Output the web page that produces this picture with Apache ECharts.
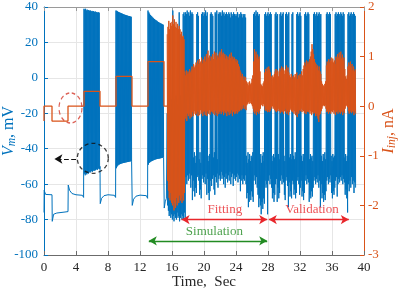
<!DOCTYPE html>
<html><head><meta charset="utf-8">
<script src="https://cdn.jsdelivr.net/npm/echarts@6/dist/echarts.min.js"></script>
<style>html,body{margin:0;padding:0;background:#fff}#c{width:400px;height:295px}</style>
</head><body><div id="c"></div>
<script>
// ---------- DATA ----------
const xTicks = [0, 40, 4];          // x axis min, max, step (s)
const vmTicks = [-100, 40, 20];     // left axis (mV)
const iTicks = [-3, 2, 1];          // right axis (nA)

// Membrane potential, sub-threshold step responses (time s, mV)
const restT1 = [0, 0.02, 0.2, 1.0, 1.03, 1.2, 1.6, 2.5, 3.0, 3.03, 3.2, 3.5, 4.0, 4.8, 4.95];
const restV1 = [-76, -63.5, -65.8, -66, -81, -77, -76.3, -75.8, -75.5, -60.5, -63.5, -65.3, -66, -66.3, -67.5];
const restT2 = [7.0, 7.03, 7.2, 7.5, 8.0, 8.8, 8.95];
const restV2 = [-50, -71, -68, -66.5, -66, -66.3, -67.5];
const restT3 = [11.0, 11.03, 11.2, 11.5, 12.0, 12.8, 12.95];
const restV3 = [-47, -72, -68.5, -66.8, -66.2, -66.5, -68];
const restT4 = [15.0, 15.03, 15.15, 15.3];
const restV4 = [-45, -73.5, -70, -68];

// Spiking bursts: per 0.1 s sample, spike peak (Hi) and trough (Lo), mV
const DT = 0.1;
const burstStart = [5.0, 9.0, 13.0];
const burst1Hi = [39, 38.5, 39, 38, 38.5, 38, 38.3, 37.8, 38, 37.5, 37.8, 37.5, 37.6, 37.2, 37.5, 37, 37.2, 36.8, 37, 36.8];
const burst1Lo = [-54, -55, -54, -54.5, -53.5, -54, -53, -53.5, -53, -52.5, -53, -52.5, -52, -52.5, -52, -51.5, -52, -51.5, -51, -51.5];
const burst2Hi = [38, 37.8, 37.5, 37.2, 37, 36.8, 36.6, 36.4, 36.2, 36, 35.8, 35.6, 35.5, 35.3, 35.2, 35, 34.9, 34.8, 34.6, 34.5];
const burst2Lo = [-51, -50, -49.4, -49, -48.8, -48.6, -48.4, -48.3, -48.1, -48, -47.9, -47.8, -47.7, -47.6, -47.5, -47.4, -47.3, -47.2, -47.1, -47];
const burst3Hi = [38, 37, 36.2, 35.5, 35, 34.5, 34, 33.6, 33.2, 32.8, 32.5, 32.2, 31.8, 31.5, 31.2, 31, 30.7, 30.5, 30.2, 30];
const burst3Lo = [-49, -48, -47.6, -47.3, -47, -46.8, -46.6, -46.4, -46.2, -46, -45.9, -45.8, -45.7, -45.6, -45.5, -45.4, -45.3, -45.2, -45.1, -45];

// Noisy-current period, from 15.4 s, every 0.1 s: envelope high / low
const noiseStart = 15.4;
const vHi = [
  -20, -15, -25, -10, -18, -12,
  -15, 38, -20, -12, -18, -10, -22, -15, -12, 37,
  -18, -10, -15, -20, 36, 37, 35, 37, 36, 38,
  36, 37, 35, 38, 36, 37, 36, -45, -42, -48,
  -44, 36, 37, 35, -46, -42, -48, 36, 37, 35,
  37, 36, 38, 35, 37, -44, -47, -43, 36, 37,
  36, 35, -45, -42, 37, 36, 38, -46, 36, 37,
  36, 37, 35, 38, 36, 37, 35, 36, 37, 36,
  35, 37, 36, 34, 37, 36, 35, 37, 36, 35,
  36, 35, 37, 34, 36, 35, 37, 36, 34, 36,
  35, 36, 34, -44, -48, -42, -46, -43, -47, -44,
  -45, -42, 36, 37, 35, 38, 36, 37, 35, 36,
  -46, -43, -48, -44, -42, -47, 36, 37, 35, 36,
  37, 35, 36, 37, 36, -44, -47, -43, -45, 36,
  37, 35, 36, -43, -46, 36, 37, 35, 36, 37,
  -44, -47, 36, 37, 35, 36, 37, -45, -43, -46,
  36, 37, -44, -46, -42, -45, 36, 37, 35, 36,
  37, 35, -44, -47, -43, -45, 36, 37, 35, 36,
  37, 36, -46, -43, -45, -44, -47, 36, 37, 35,
  36, 37, 35, 36, 37, 35, 36, -44, -47, -43,
  -45, -42, -46, 36, 37, 35, 36, 37, 36, -44,
  -47, -43, -45, -44, 36, 37, 35, 36, 37, 36,
  35, 37, 36, 35, 37, 36, -45, -43, -47, -44,
  36, 37, 35, 36, 37, 35, 36, 37, 36, 35];
const vLo = [
  -72, -75, -78, -76, -79, -77,
  -80, -78, -81, -77, -79, -80, -76, -79, -78, -81,
  -79, -77, -80, -78, -80, -76, -79, -56, -60, -55,
  -58, -54, -57, -62, -55, -69, -58, -64, -67, -62,
  -65, -56, -55, -58, -66, -63, -68, -57, -55, -59,
  -56, -60, -54, -66, -57, -65, -69, -64, -58, -61,
  -57, -55, -63, -66, -56, -59, -54, -62, -57, -55,
  -58, -53, -57, -55, -60, -56, -62, -54, -57, -59,
  -55, -58, -53, -60, -56, -54, -61, -57, -55, -58,
  -56, -54, -59, -55, -57, -64, -58, -55, -60, -57,
  -58, -55, -60, -68, -65, -73, -70, -66, -69, -64,
  -67, -70, -58, -55, -60, -56, -62, -66, -73, -68,
  -72, -77, -70, -74, -68, -71, -58, -62, -60, -77,
  -58, -55, -60, -57, -62, -68, -65, -70, -66, -60,
  -57, -70, -62, -68, -65, -58, -55, -60, -57, -59,
  -66, -69, -58, -56, -61, -73, -59, -67, -64, -68,
  -58, -60, -66, -63, -68, -65, -58, -56, -60, -66,
  -62, -58, -67, -64, -69, -65, -58, -55, -60, -57,
  -59, -70, -66, -68, -64, -67, -62, -58, -56, -60,
  -57, -59, -55, -62, -58, -73, -60, -68, -65, -70,
  -66, -69, -64, -58, -56, -60, -57, -59, -55, -65,
  -68, -64, -66, -62, -58, -56, -67, -60, -57, -59,
  -56, -58, -55, -60, -57, -59, -66, -63, -68, -76,
  -60, -64, -58, -62, -56, -60, -58, -65, -59, -62];

// Injected current: step protocol (time s, nA)
const stepT = [0, 0, 1, 3, 5, 7, 9, 11, 13, 15, 15.4];
const stepI = [-0.3, 0, -0.3, 0, 0.3, 0, 0.6, 0, 0.9, 0, 0];
// Injected noisy current from 15.4 s, every 0.1 s: envelope high / low (nA)
const iHi = [
  1.45, 1.6, 1.72, 1.55, 1.68, 1.62,
  1.7, 1.83, 1.65, 1.75, 1.6, 1.7, 1.58, 1.66, 1.55, 1.62,
  1.55, 1.45, 1.5, 1.4, 1.42, 1.35, 0.7, 0.62, 0.72, 0.65,
  0.7, 0.66, 0.75, 0.68, 0.72, 0.8, 0.74, 0.85, 0.78, 0.82,
  0.88, 0.8, 0.92, 0.85, 0.95, 0.87, 0.9, 0.98, 0.86, 0.93,
  0.95, 1.0, 0.9, 1.05, 0.96, 1.12, 0.98, 1.02, 0.92, 1.0,
  0.97, 1.05, 0.95, 1.1, 1.0, 1.08, 0.94, 1.02, 0.98, 1.06,
  1.1, 1.0, 1.15, 1.04, 1.08, 0.98, 1.05, 0.96, 1.02, 0.95,
  1.0, 0.93, 1.04, 0.97, 1.08, 0.92, 1.0, 0.95, 0.98, 0.9,
  0.95, 0.88, 0.92, 0.85, 0.8, 0.72, 0.68, 0.6, 0.65, 0.55,
  0.6, 0.52, 0.58, 0.5, 0.45, 0.48, 0.42, 0.5, 0.44, 0.47,
  0.55, 0.62, 0.9, 1.15, 1.05, 1.1, 0.98, 1.04, 0.95, 1.0,
  0.7, 0.45, 0.42, 0.4, 0.46, 0.5, 0.68, 0.75, 0.7, 0.78,
  0.72, 0.8, 0.74, 0.68, 0.6, 0.55, 0.62, 0.58, 0.65, 0.7,
  0.75, 0.68, 0.72, 0.6, 0.7, 0.76, 0.7, 0.8, 0.74, 0.78,
  0.72, 0.65, 0.75, 0.82, 0.7, 0.78, 0.68, 0.62, 0.58, 0.65,
  0.6, 0.55, 0.62, 0.58, 0.65, 0.6, 0.68, 0.55, 0.62, 0.6,
  0.65, 0.58, 0.7, 0.62, 0.75, 0.82, 0.88, 0.8, 0.92, 0.85,
  0.9, 0.86, 0.95, 1.0, 1.1, 1.25, 1.15, 1.05, 0.95, 0.88,
  0.85, 0.78, 0.82, 0.72, 0.8, 0.7, 0.65, 0.5, 0.45, 0.42,
  0.4, 0.45, 0.5, 0.82, 0.9, 0.86, 0.95, 0.88, 0.92, 0.98,
  0.9, 0.96, 0.88, 0.92, 0.85, 1.0, 0.95, 1.05, 0.98, 1.08,
  1.0, 1.1, 0.96, 1.04, 0.92, 0.98, 0.75, 0.6, 0.55, 0.62,
  0.8, 0.88, 0.82, 0.9, 0.78, 0.85, 0.72, 0.8, 0.7, 0.74];
const iLo = [
  -1.5, -1.7, -1.85, -1.9, -1.75, -1.95,
  -2.0, -1.9, -2.1, -1.95, -2.05, -1.85, -2.0, -1.9, -1.95, -1.8,
  -1.9, -1.85, -1.95, -1.8, -1.9, -1.75, -0.25, -0.2, -0.3, -0.15,
  -0.2, -0.15, -0.25, -0.18, -0.22, -0.12, -0.2, -0.15, -0.1, -0.18,
  -0.15, -0.1, -0.2, -0.12, -0.18, -0.08, -0.15, -0.1, -0.2, -0.12,
  -0.1, -0.18, -0.12, -0.2, -0.1, -0.15, -0.08, -0.17, -0.12, -0.1,
  -0.12, -0.15, -0.08, -0.18, -0.1, -0.14, -0.2, -0.1, -0.16, -0.12,
  -0.1, -0.16, -0.12, -0.08, -0.18, -0.1, -0.14, -0.12, -0.2, -0.1,
  -0.12, -0.18, -0.1, -0.15, -0.08, -0.2, -0.12, -0.1, -0.16, -0.14,
  -0.1, -0.15, -0.12, -0.08, -0.1, -0.05, -0.08, 0.0, -0.05, 0.02,
  -0.05, 0.0, -0.08, 0.02, 0.05, 0.08, 0.05, 0.1, 0.06, 0.04,
  0.0, -0.05, -0.12, -0.15, -0.1, -0.18, -0.12, -0.08, -0.15, -0.1,
  -0.05, 0.02, 0.05, 0.0, 0.04, 0.0, -0.08, -0.1, -0.06, -0.12,
  -0.08, -0.12, -0.1, -0.06, -0.02, 0.0, -0.05, -0.02, -0.08, -0.1,
  -0.12, -0.08, -0.1, -0.05, -0.1, -0.14, -0.08, -0.12, -0.1, -0.15,
  -0.1, -0.05, -0.12, -0.15, -0.1, -0.18, -0.12, -0.08, -0.05, -0.1,
  -0.12, -0.08, -0.15, -0.1, -0.18, -0.12, -0.22, -0.1, -0.15, -0.08,
  -0.1, -0.05, -0.12, -0.08, -0.1, -0.14, -0.1, -0.16, -0.12, -0.1,
  -0.12, -0.08, -0.15, -0.1, -0.18, -0.12, -0.15, -0.1, -0.14, -0.2,
  -0.15, -0.2, -0.25, -0.32, -0.18, -0.15, -0.1, -0.05, 0.0, 0.02,
  0.0, 0.02, -0.05, -0.12, -0.1, -0.15, -0.12, -0.08, -0.15, -0.1,
  -0.12, -0.08, -0.15, -0.1, -0.18, -0.12, -0.1, -0.15, -0.08, -0.12,
  -0.15, -0.1, -0.12, -0.18, -0.1, -0.14, -0.05, 0.0, 0.02, -0.02,
  -0.1, -0.15, -0.12, -0.08, -0.14, -0.1, -0.12, -0.18, -0.1, -0.15];

// Annotations (data coordinates, left axis in mV)
const phaseName = ['Fitting', 'Validation', 'Simulation'];
const phaseFrom = [17.2, 28.1, 13.1];
const phaseTo = [27.9, 38.1, 27.9];
const phaseLevel = [-80, -80, -92];
const phaseLabelT = [22.6, 33.5, 21.3];
const phaseLabelV = [-74.5, -74.5, -86.5];
const markT = [3.31, 6.1];      // dashed ellipse centres
const markV = [-17, -45.4];
const pointerFrom = [4.0, -45.8];
const pointerTo = [1.3, -45.8];

// ---------- BUILD ----------
const FONT = '"Liberation Serif", "Times New Roman", serif';
const BLUE = '#0072BD', ORANGE = '#D95319', RED = '#E8262B', GREEN = '#228B22';
const pairs = (T, V) => T.map((t, i) => [t, V[i]]);
function zig(t0, hi, lo) {
  const out = [];
  for (let k = 0; k < hi.length; k++) {
    const t = t0 + k * DT;
    out.push([+t.toFixed(3), hi[k]]);
    out.push([+(t + DT / 2).toFixed(3), lo[k]]);
  }
  return out;
}
const vmData = [].concat(
  pairs(restT1, restV1), zig(burstStart[0], burst1Hi, burst1Lo),
  pairs(restT2, restV2), zig(burstStart[1], burst2Hi, burst2Lo),
  pairs(restT3, restV3), zig(burstStart[2], burst3Hi, burst3Lo),
  pairs(restT4, restV4), zig(noiseStart, vHi, vLo));
const iNoise = zig(noiseStart, iHi, iLo);
const phaseColor = [RED, RED, GREEN];

const chart = echarts.init(document.getElementById('c'));
chart.setOption({
  animation: false,
  backgroundColor: '#fff',
  grid: { left: 44, right: 36, top: 7, bottom: 40, containLabel: false, outerBoundsMode: 'none' },
  xAxis: [{
    type: 'value', min: xTicks[0], max: xTicks[1], interval: xTicks[2], position: 'bottom',
    axisLine: { onZero: false, lineStyle: { color: '#6b6b6b', width: 1 } },
    axisTick: { inside: true, length: 4, lineStyle: { color: '#6b6b6b' } },
    axisLabel: { color: '#262626', fontFamily: FONT, fontSize: 13, margin: 6 },
    splitLine: { show: true, lineStyle: { color: '#e6e6e6', width: 1 } },
    name: 'Time,  Sec', nameLocation: 'middle', nameGap: 20, nameMoveOverlap: false,
    nameTextStyle: { fontFamily: FONT, fontSize: 15, color: '#262626' }
  }, {
    type: 'value', min: xTicks[0], max: xTicks[1], interval: xTicks[2], position: 'top',
    axisLine: { show: true, onZero: false, lineStyle: { color: '#9a9a9a', width: 1 } },
    axisTick: { show: true, inside: true, length: 4, lineStyle: { color: '#9a9a9a' } },
    axisLabel: { show: false }, splitLine: { show: false }
  }],
  yAxis: [{
    type: 'value', min: vmTicks[0], max: vmTicks[1], interval: vmTicks[2], position: 'left',
    axisLine: { show: true, onZero: false, lineStyle: { color: BLUE, width: 1 } },
    axisTick: { show: true, inside: true, length: 4, lineStyle: { color: BLUE } },
    axisLabel: { color: BLUE, fontFamily: FONT, fontSize: 13, margin: 6 },
    splitLine: { show: true, lineStyle: { color: '#e6e6e6', width: 1 } },
    name: '{i|V}{s|m}{n|, mV}', nameLocation: 'middle', nameGap: 26, nameRotate: 90, nameMoveOverlap: false,
    nameTextStyle: { color: BLUE, rich: {
      i: { fontFamily: FONT, fontSize: 16, fontStyle: 'italic', color: BLUE },
      s: { fontFamily: FONT, fontSize: 11.5, fontStyle: 'italic', color: BLUE, verticalAlign: 'bottom', padding: [6, 0, 0, 0] },
      n: { fontFamily: FONT, fontSize: 16, color: BLUE } } }
  }, {
    type: 'value', min: iTicks[0], max: iTicks[1], interval: iTicks[2], position: 'right',
    axisLine: { show: true, onZero: false, lineStyle: { color: ORANGE, width: 1 } },
    axisTick: { show: true, inside: true, length: 4, lineStyle: { color: ORANGE } },
    axisLabel: { color: ORANGE, fontFamily: FONT, fontSize: 13, margin: 4 },
    splitLine: { show: false },
    name: '{i|I}{s|inj}{n|, nA}', nameLocation: 'middle', nameGap: 16, nameRotate: 90, nameMoveOverlap: false,
    nameTextStyle: { color: ORANGE, rich: {
      i: { fontFamily: FONT, fontSize: 16, fontStyle: 'italic', color: ORANGE },
      s: { fontFamily: FONT, fontSize: 11.5, fontStyle: 'italic', color: ORANGE, verticalAlign: 'bottom', padding: [6, 0, 0, 0] },
      n: { fontFamily: FONT, fontSize: 16, color: ORANGE } } }
  }],
  series: [
    { type: 'line', yAxisIndex: 0, data: vmData, symbol: 'none', lineStyle: { color: BLUE, width: 1 }, itemStyle: { color: BLUE }, z: 2 },
    { type: 'line', yAxisIndex: 1, data: pairs(stepT, stepI), step: 'end', symbol: 'none', lineStyle: { color: ORANGE, width: 1.3 }, z: 3 },
    { type: 'line', yAxisIndex: 1, data: iNoise, symbol: 'none', lineStyle: { color: ORANGE, width: 1 }, z: 3 },
    { type: 'line', yAxisIndex: 0, data: [], z: 5,
      markLine: { silent: true, animation: false, symbol: ['arrow', 'arrow'], symbolSize: [7, 8], label: { show: false },
        data: phaseName.map((n, i) => [
          { coord: [phaseFrom[i], phaseLevel[i]], lineStyle: { color: phaseColor[i], width: 1.3, type: 'solid' }, itemStyle: { color: phaseColor[i] } },
          { coord: [phaseTo[i], phaseLevel[i]] }]).concat([[
          { coord: pointerFrom, symbol: 'none', lineStyle: { color: '#111', width: 1.2, type: 'dashed' }, itemStyle: { color: '#111' } },
          { coord: pointerTo, symbol: 'arrow' }]]) } },
    { type: 'scatter', yAxisIndex: 0, z: 6, silent: true, symbol: 'circle', symbolSize: 1,
      data: phaseName.map((n, i) => ({ name: n, value: [phaseLabelT[i], phaseLabelV[i]],
        label: { color: phaseColor[i] } })),
      label: { show: true, position: 'inside', formatter: p => p.name, fontFamily: FONT, fontSize: 13 },
      itemStyle: { color: 'rgba(0,0,0,0)' } },
    { type: 'scatter', yAxisIndex: 0, z: 6, silent: true, symbol: 'circle',
      data: [
        { value: [markT[0], markV[0]], symbolSize: [23, 30], itemStyle: { borderColor: '#D33A2C' } },
        { value: [markT[1], markV[1]], symbolSize: [31, 30], itemStyle: { borderColor: '#111' } }],
      itemStyle: { color: 'rgba(0,0,0,0)', borderWidth: 1.3, borderType: [4, 3] } }
  ]
});
</script></body></html>
